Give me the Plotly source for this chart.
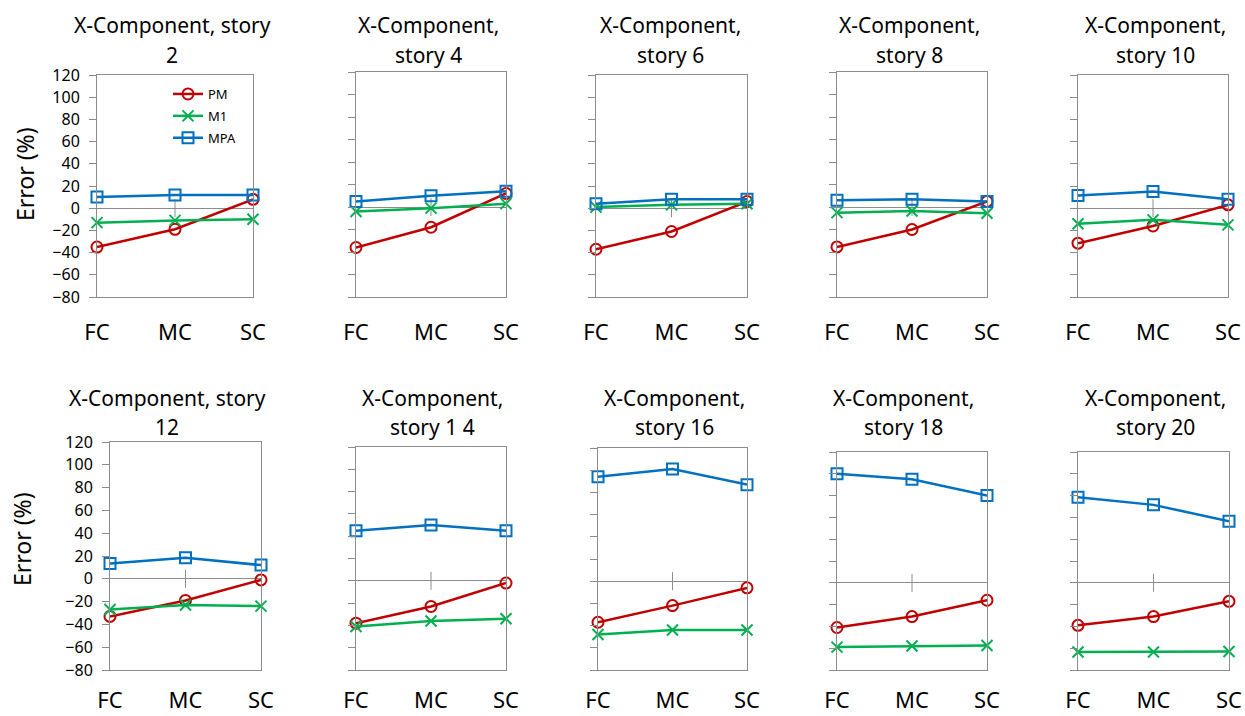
import plotly.graph_objects as go

# ---------------- data ----------------
categories = ["FC", "MC", "SC"]
series_names = ["PM", "M1", "MPA"]
titles = [
    "X-Component, story<br>2", "X-Component,<br>story 4", "X-Component,<br>story 6",
    "X-Component,<br>story 8", "X-Component,<br>story 10",
    "X-Component, story<br>12", "X-Component,<br>story 1 4", "X-Component,<br>story 16",
    "X-Component,<br>story 18", "X-Component,<br>story 20",
]
pm_values = [
    [-35, -19, 8], [-36, -18, 12], [-37, -21, 6], [-35.5, -20, 5], [-31.5, -16, 3],
    [-33, -19, -1], [-38, -23, -2], [-37, -22, -6], [-41, -31, -16], [-39, -31, -17],
]
m1_values = [
    [-13, -11, -10], [-4, -1, 3], [1, 3, 4], [-5, -3.5, -5.5], [-14, -10.5, -15],
    [-27, -23, -24], [-41, -36, -34], [-48, -44, -44], [-59, -58, -57.5], [-63.5, -63.5, -63],
]
mpa_values = [
    [10, 12, 12], [5, 10, 14], [4, 8, 8], [6, 7, 5], [11.5, 15, 8],
    [13.5, 18.5, 12], [45, 50, 45], [94, 101, 87], [100, 95, 80], [78.5, 71.5, 56.5],
]
y_ticks = [-80, -60, -40, -20, 0, 20, 40, 60, 80, 100, 120]
y_title = "Error (%)"

# ---------------- layout geometry (pixels) ----------------
W, H = 1245, 716
# plot-area boxes: (left, top, right, bottom)
boxes = [
    (97, 75, 253, 297), (356, 72, 506, 297), (596, 75, 747, 297),
    (837, 72, 987, 297), (1078, 75, 1228, 297),
    (110, 442, 261, 670), (356, 447, 506, 670), (598, 448, 747, 670),
    (837, 452, 987, 670), (1078, 452, 1229, 670),
]
title_cx = [172, 428, 670, 909, 1155, 167, 432, 674, 903, 1155]
title_rows = [(25, 55)] * 5 + [(398, 427)] * 5
x_label_standoff = [16] * 5 + [11] * 5

colors = {"PM": "#C00000", "M1": "#00B050", "MPA": "#0070C0"}
symbols = {"PM": "circle-open", "M1": "x-thin-open", "MPA": "square-open"}
sizes = {"PM": 11, "M1": 11, "MPA": 11}
gray = "#8C8C8C"
font_family = "Noto Sans"

fig = go.Figure()
layout_axes = {}
shapes = []
annotations = []

for i in range(10):
    n = "" if i == 0 else str(i + 1)
    xref, yref = "x" + n, "y" + n
    vals = {"PM": pm_values[i], "M1": m1_values[i], "MPA": mpa_values[i]}
    for s in series_names:
        fig.add_trace(go.Scatter(
            x=categories, y=vals[s], name=s, mode="lines+markers",
            xaxis=xref, yaxis=yref, cliponaxis=False,
            line=dict(color=colors[s], width=2.5),
            marker=dict(symbol=symbols[s], size=sizes[s], color=colors[s],
                        line=dict(color=colors[s], width=2)),
            showlegend=(i == 0), legendgroup=s,
        ))
    l, t, r, b = boxes[i]
    layout_axes["xaxis" + n] = dict(
        domain=[l / W, r / W], anchor=yref, type="category",
        range=[0, len(categories) - 1], showgrid=False, zeroline=False,
        showline=True, mirror=True, linecolor=gray, linewidth=1,
        ticks="", tickfont=dict(size=22, color="#000000", family=font_family),
        ticklabelstandoff=x_label_standoff[i], fixedrange=True, automargin=False,
    )
    layout_axes["yaxis" + n] = dict(
        domain=[1 - b / H, 1 - t / H], anchor=xref, range=[y_ticks[0], y_ticks[-1]],
        tickvals=y_ticks, showticklabels=(i in (0, 5)), ticks="outside", ticklen=7,
        tickcolor=gray, showgrid=False, zeroline=True, zerolinecolor=gray,
        zerolinewidth=1, showline=True, mirror=True, linecolor=gray, linewidth=1,
        tickfont=dict(size=16, color="#000000", family=font_family),
        ticklabelstandoff=6, fixedrange=True, automargin=False,
    )
    # cross tick mark at the middle category on the zero (category) axis
    shapes.append(dict(
        type="line", xref=xref, yref=yref, x0=categories.index("MC"), x1=categories.index("MC"),
        ysizemode="pixel", yanchor=0, y0=-9, y1=9,
        line=dict(color=gray, width=1), layer="below",
    ))
    # two-line title
    lines = titles[i].split("<br>")
    for k, txt in enumerate(lines):
        annotations.append(dict(
            text=txt, x=title_cx[i] / W, y=1 - title_rows[i][k] / H,
            xref="paper", yref="paper", xanchor="center", yanchor="middle",
            showarrow=False, font=dict(size=21, color="#000000", family=font_family),
        ))

# y-axis titles
for cx, cy in [(25, 174), (22, 539)]:
    annotations.append(dict(
        text=y_title, x=cx / W, y=1 - cy / H, xref="paper", yref="paper",
        xanchor="center", yanchor="middle", textangle=-90, showarrow=False,
        font=dict(size=23, color="#000000", family=font_family),
    ))

fig.update_layout(
    width=W, height=H, autosize=False,
    margin=dict(l=0, r=0, t=0, b=0, pad=0, autoexpand=False),
    paper_bgcolor="white", plot_bgcolor="white",
    font=dict(family=font_family, color="#000000"),
    shapes=shapes, annotations=annotations,
    legend=dict(x=168 / W, y=1 - 79 / H, xanchor="left", yanchor="top",
                bgcolor="rgba(0,0,0,0)", font=dict(size=13, color="#000000"),
                tracegroupgap=2),
    **layout_axes,
)

fig.write_html("out.html")
